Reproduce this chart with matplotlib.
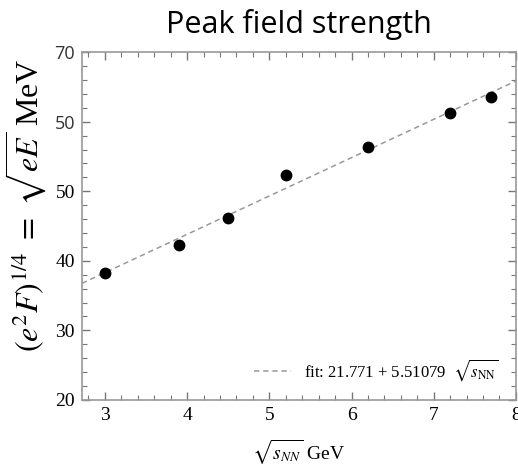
import numpy as np
import matplotlib.pyplot as plt

# collision energies (GeV) and peak field strength (MeV)
sqrt_snn = [3.0, 3.9, 4.5, 5.2, 6.2, 7.2, 7.7]
field = [38.3, 42.3, 46.1, 52.4, 56.4, 61.2, 63.6]

fit_a = 21.771
fit_b = 5.51079

x_ticks = [3, 4, 5, 6, 7, 8]
y_ticks = [20, 30, 40, 50, 60, 70]
y_labels = ["20", "30", "40", "50", "50", "70"]

plt.rcParams["mathtext.fontset"] = "stix"

fig = plt.figure(figsize=(5.18, 4.70), dpi=100)
ax = fig.add_axes([0.158, 0.149, 0.838, 0.740])

xs = np.linspace(2.72, 8.0, 50)
ax.plot(xs, fit_a + fit_b * xs, ls=(0, (3.5, 2.5)), color="#999999", lw=1.1,
        label=r"fit: 21.771 + 5.51079  $\sqrt{s_{\rm NN}}$")
ax.plot(sqrt_snn, field, "o", color="black", ms=7.5, zorder=3)

ax.set_xlim(2.72, 8.0)
ax.set_ylim(20, 70)
ax.set_xticks(x_ticks)
ax.set_xticklabels([str(t) for t in x_ticks], family="Liberation Serif", fontsize=14)
ax.set_yticks(y_ticks)
ax.set_yticklabels(y_labels, fontsize=14)
for i, lab in enumerate(ax.get_yticklabels()):
    if i >= 4:
        lab.set_family("Open Sans")
        lab.set_fontsize(13)
        lab.set_color("#333333")
    else:
        lab.set_family("Liberation Serif")
ax.set_xticks(np.arange(2.8, 8.01, 0.2), minor=True)
ax.set_yticks(np.arange(20, 70.1, 2), minor=True)
ax.tick_params(which="both", direction="in", top=True, right=True, color="#777777")
ax.tick_params(which="major", length=6, width=1, pad=5)
ax.tick_params(which="minor", length=3.5, width=0.8)
for s in ax.spines.values():
    s.set_color("#999999")
    s.set_linewidth(1.2)

ax.set_title("Peak field strength", family="Open Sans", fontsize=22, pad=14)
ax.set_xlabel(r"$\sqrt{s_{NN}}$ GeV", family="Liberation Serif", fontsize=14, labelpad=10)
ax.set_ylabel(r"$(e^2F)^{1/4}\ =\ \sqrt{eE}$ MeV", family="Liberation Serif", fontsize=23)
ax.yaxis.set_label_coords(-0.075, 0.56)

leg = ax.legend(loc="lower right", frameon=False, prop={"family": "Liberation Serif", "size": 12},
                handlelength=2.2, borderaxespad=0.6)

fig.savefig("out.png", dpi=100)
